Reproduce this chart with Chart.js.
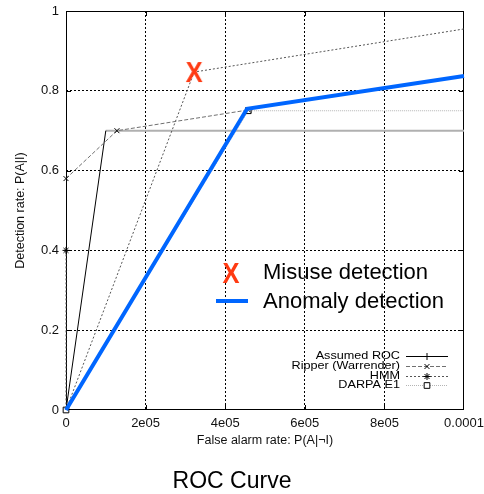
<!DOCTYPE html>
<html>
<head>
<meta charset="utf-8">
<script src="https://cdn.jsdelivr.net/npm/chart.js@4"></script>
<style>
body { margin: 0; background: #fff; }
</style>
</head>
<body>
<canvas id="roc" width="484" height="494"></canvas>
<script>
// axes
const xTicks = [0, 2e-5, 4e-5, 6e-5, 8e-5, 1e-4];
const xTickLabels = ['0', '2e05', '4e05', '6e05', '8e05', '0.0001'];
const yTicks = [0, 0.2, 0.4, 0.6, 0.8, 1];
const yTickLabels = ['0', '0.2', '0.4', '0.6', '0.8', '1'];

// curves (false alarm rate, detection rate)
const assumedX = [0, 1.0e-5];
const assumedY = [0, 0.70];
const plateauX = [1.0e-5, 1e-4];
const plateauY = [0.70, 0.70];
const ripperX = [0, 1.28e-5, 4.58e-5];
const ripperY = [0.58, 0.70, 0.752];
const hmmX = [0, 0, 3.22e-5, 1e-4];
const hmmY = [0.40, 0, 0.847, 0.955];
const darpaX = [0, 4.58e-5, 1e-4];
const darpaY = [0, 0.75, 0.75];
const anomalyX = [0, 4.55e-5, 1e-4];
const anomalyY = [0, 0.755, 0.837];
const misuseX = [3.22e-5];
const misuseY = [0.847];

const FONT = '"Liberation Sans", Arial, sans-serif';
const misuseColor = '#ff3a12';
const anomalyColor = '#0066ff';

function zip(xs, ys) {
    return xs.map((x, i) => ({ x: x, y: ys[i] }));
}

// the big orange X, reused in the plot and the big key
const xMark = document.createElement('canvas');
xMark.width = 20;
xMark.height = 22;
const g = xMark.getContext('2d');
g.fillStyle = misuseColor;
g.font = 'bold 29px ' + FONT;
g.textAlign = 'center';
g.translate(10, 0);
g.scale(0.88, 1);
g.fillText('X', 0, 21);

const framePlugin = {
    id: 'frame',
    beforeDatasetsDraw(chart) {
        const { ctx, chartArea: a, scales } = chart;
        ctx.save();
        ctx.strokeStyle = '#000';
        ctx.lineWidth = 1;
        ctx.setLineDash([]);
        ctx.beginPath();
        xTicks.slice(1, -1).forEach(v => {
            const px = Math.round(scales.x.getPixelForValue(v)) + 0.5;
            ctx.moveTo(px, a.bottom); ctx.lineTo(px, a.bottom - 5);
            ctx.moveTo(px, a.top); ctx.lineTo(px, a.top + 5);
        });
        yTicks.slice(1, -1).forEach(v => {
            const py = Math.round(scales.y.getPixelForValue(v)) + 0.5;
            ctx.moveTo(a.left, py); ctx.lineTo(a.left + 5, py);
            ctx.moveTo(a.right, py); ctx.lineTo(a.right - 5, py);
        });
        ctx.stroke();
        ctx.strokeRect(a.left + 0.5, a.top + 0.5, a.width - 1, a.height - 1);
        ctx.restore();
    }
};

const keyPlugin = {
    id: 'keys',
    afterDraw(chart) {
        const ctx = chart.ctx;
        ctx.save();
        // small gnuplot style key
        chart.data.datasets.filter(d => d.keyRow !== undefined)
            .sort((a, b) => a.keyRow - b.keyRow)
            .forEach(d => {
                const y = 356 + d.keyRow * 9.8;
                ctx.save();
                ctx.translate(400, y);
                ctx.scale(1.15, 1);
                ctx.font = '11px ' + FONT;
                ctx.textAlign = 'right';
                ctx.textBaseline = 'middle';
                ctx.fillStyle = '#000';
                ctx.fillText(d.label, 0, 0);
                ctx.restore();
                ctx.strokeStyle = d.borderColor;
                ctx.lineWidth = d.borderWidth;
                ctx.setLineDash(d.borderDash || []);
                ctx.beginPath();
                ctx.moveTo(406, Math.round(y) + 0.5);
                ctx.lineTo(448, Math.round(y) + 0.5);
                ctx.stroke();
                ctx.setLineDash([]);
                ctx.strokeStyle = '#000';
                ctx.fillStyle = '#fff';
                ctx.lineWidth = 1;
                if (Chart.helpers && Chart.helpers.drawPoint) {
                    Chart.helpers.drawPoint(ctx, { pointStyle: d.keyStyle, radius: d.keyRadius, borderWidth: 1, rotation: 0 }, 427, Math.round(y) + 0.5);
                }
            });

        // big key
        ctx.drawImage(xMark, 231 - 10, 273 - 11);
        ctx.font = '22px ' + FONT;
        ctx.textAlign = 'left';
        ctx.textBaseline = 'middle';
        ctx.fillStyle = '#000';
        ctx.fillText('Misuse detection', 263, 273);
        ctx.fillText('Anomaly detection', 263, 302);
        ctx.strokeStyle = anomalyColor;
        ctx.lineWidth = 4;
        ctx.beginPath();
        ctx.moveTo(216, 301);
        ctx.lineTo(248, 301);
        ctx.stroke();
        ctx.restore();
    }
};

const gridColor = (ctx, n) => (ctx.index === 0 || ctx.index === n - 1) ? 'rgba(0,0,0,0)' : '#000';

new Chart(document.getElementById('roc'), {
    type: 'scatter',
    data: {
        datasets: [
            {
                label: 'Misuse detection',
                data: zip(misuseX, misuseY),
                showLine: false,
                pointStyle: xMark,
                pointRadius: 9,
                clip: false
            },
            {
                label: 'Anomaly detection',
                data: zip(anomalyX, anomalyY),
                showLine: true,
                borderColor: anomalyColor,
                borderWidth: 4,
                pointRadius: 0,
                clip: false
            },
            {
                label: 'DARPA E1',
                keyRow: 3,
                keyStyle: 'rect',
                keyRadius: 4,
                data: zip(darpaX, darpaY),
                showLine: true,
                borderColor: '#b4b4b4',
                borderWidth: 1,
                borderDash: [1, 1],
                pointStyle: 'rect',
                pointRadius: [4, 4, 0],
                pointBorderColor: '#000',
                pointBorderWidth: 1,
                pointBackgroundColor: 'rgba(255,255,255,0)',
                clip: false
            },
            {
                label: 'Ripper (Warrender)',
                keyRow: 1,
                keyStyle: 'crossRot',
                keyRadius: 3.5,
                data: zip(ripperX, ripperY),
                showLine: true,
                borderColor: '#707070',
                borderWidth: 1,
                borderDash: [4, 2],
                pointStyle: 'crossRot',
                pointRadius: 3.5,
                pointBorderColor: '#000',
                pointBorderWidth: 1,
                clip: false
            },
            {
                label: 'HMM',
                keyRow: 2,
                keyStyle: 'star',
                keyRadius: 3.5,
                data: zip(hmmX, hmmY),
                showLine: true,
                borderColor: '#555',
                borderWidth: 1,
                borderDash: [2, 2],
                pointStyle: 'star',
                pointRadius: [3.5, 0, 0, 0],
                pointBorderColor: '#000',
                pointBorderWidth: 1,
                clip: false
            },
            {
                label: 'Assumed ROC',
                keyRow: 0,
                keyStyle: 'cross',
                keyRadius: 3.5,
                data: zip(assumedX, assumedY),
                showLine: true,
                borderColor: '#000',
                borderWidth: 1,
                pointRadius: 0,
                clip: false
            },
            {
                label: 'plateau',
                data: zip(plateauX, plateauY),
                showLine: true,
                borderColor: '#b0b0b0',
                borderWidth: 2,
                pointRadius: 0,
                clip: false
            }
        ]
    },
    options: {
        responsive: false,
        animation: false,
        events: [],
        layout: { padding: { top: 11, right: 20, left: 0, bottom: 0 } },
        scales: {
            x: {
                type: 'linear',
                min: 0,
                max: 1e-4,
                afterBuildTicks: axis => { axis.ticks = xTicks.map(v => ({ value: v })); },
                afterFit: axis => {
                    axis.height = 44;
                    axis.paddingLeft = 0;
                    axis.paddingRight = 0;
                },
                ticks: {
                    padding: 6,
                    color: '#111',
                    font: { family: FONT, size: 13 },
                    maxRotation: 0,
                    autoSkip: false,
                    callback: (value, index) => xTickLabels[index]
                },
                grid: {
                    drawTicks: false,
                    lineWidth: 1,
                    color: ctx => gridColor(ctx, xTicks.length)
                },
                border: { display: false, dash: [2, 2] },
                title: {
                    display: true,
                    text: 'False alarm rate: P(A|¬I)',
                    color: '#111',
                    font: { family: FONT, size: 12.5 },
                    padding: { top: 0, bottom: 5.5 }
                }
            },
            y: {
                type: 'linear',
                min: 0,
                max: 1,
                afterBuildTicks: axis => { axis.ticks = yTicks.map(v => ({ value: v })); },
                afterFit: axis => {
                    axis.width = 66;
                    axis.paddingTop = 0;
                    axis.paddingBottom = 0;
                },
                ticks: {
                    padding: 7,
                    color: '#111',
                    font: { family: FONT, size: 13 },
                    autoSkip: false,
                    callback: (value, index) => yTickLabels[index]
                },
                grid: {
                    drawTicks: false,
                    lineWidth: 1,
                    color: ctx => gridColor(ctx, yTicks.length)
                },
                border: { display: false, dash: [2, 2] },
                title: {
                    display: true,
                    text: 'Detection rate: P(A|I)',
                    color: '#111',
                    font: { family: FONT, size: 12.5 },
                    padding: { top: 13, bottom: 0 }
                }
            }
        },
        plugins: {
            legend: { display: false },
            tooltip: { enabled: false },
            title: {
                display: true,
                position: 'bottom',
                text: 'ROC Curve',
                color: '#000',
                font: { family: FONT, size: 23, weight: 'normal', lineHeight: 1 },
                padding: { top: 16, bottom: 1 }
            }
        }
    },
    plugins: [framePlugin, keyPlugin]
});
</script>
</body>
</html>
